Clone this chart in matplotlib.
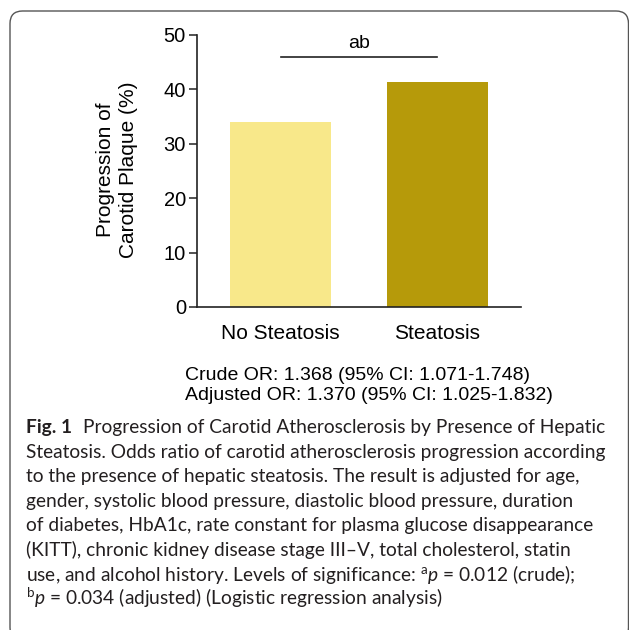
import matplotlib
matplotlib.use("Agg")
import matplotlib.pyplot as plt
from matplotlib.patches import FancyBboxPatch

# bar chart data
groups = ["No Steatosis", "Steatosis"]
progression = [34.0, 41.4]
bar_colors = ["#F8E88A", "#B69A0A"]
y_ticks = [0, 10, 20, 30, 40, 50]
sig_label = "ab"
sig_height = 46
odds_lines = ["Crude OR: 1.368 (95% CI: 1.071-1.748)",
              "Adjusted OR: 1.370 (95% CI: 1.025-1.832)"]

# figure caption, one entry per printed line
caption_title = "Fig. 1"
caption_lines = [
    "Progression of Carotid Atherosclerosis by Presence of Hepatic",
    "Steatosis. Odds ratio of carotid atherosclerosis progression according",
    "to the presence of hepatic steatosis. The result is adjusted for age,",
    "gender, systolic blood pressure, diastolic blood pressure, duration",
    "of diabetes, HbA1c, rate constant for plasma glucose disappearance",
    "(KITT), chronic kidney disease stage III\u2013V, total cholesterol, statin",
    r"use, and alcohol history. Levels of significance: $^{\mathrm{a}}p$ = 0.012 (crude);",
    r"$^{\mathrm{b}}p$ = 0.034 (adjusted) (Logistic regression analysis)",
]

plt.rcParams["font.family"] = ["Liberation Sans", "DejaVu Sans"]
plt.rcParams["mathtext.fontset"] = "custom"
plt.rcParams["mathtext.rm"] = "Lato"
plt.rcParams["mathtext.it"] = "Lato:italic"

W, H = 629, 630
fig = plt.figure(figsize=(W / 100, H / 100), dpi=100)


def fx(px):
    return px / W


def fy(py):
    return 1 - py / H


# rounded frame around the whole figure
frame = FancyBboxPatch((fx(10), fy(640)), fx(618.5), fy(11) - fy(640),
                       boxstyle="round,pad=0,rounding_size=0.02",
                       transform=fig.transFigure, facecolor="none",
                       edgecolor="#555555", linewidth=1.0)
fig.patches.append(frame)

ax = fig.add_axes([fx(197), fy(307), fx(324), (307 - 35) / H])
x = range(len(groups))
ax.bar(x, progression, width=0.643, color=bar_colors, edgecolor="none")
ax.set_xlim(-0.532, 1.532)
ax.set_ylim(0, 50)
ax.set_yticks(y_ticks)
ax.set_xticks(list(x))
ax.set_xticklabels(groups, fontsize=15)
ax.tick_params(axis="y", labelsize=14.5, length=6, width=1.1, pad=2,
               color="#222222")
ax.tick_params(axis="x", length=0, pad=12)
for side in ["top", "right"]:
    ax.spines[side].set_visible(False)
for side in ["left", "bottom"]:
    ax.spines[side].set_linewidth(1.2)
    ax.spines[side].set_color("#222222")

# significance bracket
ax.plot([0, 1], [sig_height, sig_height], color="#222222", lw=1.2,
        clip_on=False)
ax.text(0.5, 47.6, sig_label, ha="center", va="baseline", fontsize=14)

ax.text(-0.247, 0.504, "Progression of\nCarotid Plaque (%)",
        transform=ax.transAxes, rotation=90, ha="center", va="center",
        fontsize=15, linespacing=1.25)

for i, line in enumerate(odds_lines):
    fig.text(fx(185), fy(380 + 20 * i), line, fontsize=14, va="baseline")

# caption: size the font so the widest line spans the text block
renderer = fig.canvas.get_renderer()
cap_font = "Lato"
cap_color = "#231F20"
probe = fig.text(0, 0, caption_lines[1], fontsize=10, family=cap_font)
probe_w = probe.get_window_extent(renderer).width
probe.remove()
cap_size = 10 * (607 - 26) / probe_w

base = 433
step = 24.6
title = fig.text(fx(26), fy(base), caption_title, fontsize=cap_size,
                 family=cap_font, weight="bold", va="baseline",
                 color=cap_color)
title_end = title.get_window_extent(renderer).x1
fig.text((title_end + 11) / W, fy(base), caption_lines[0], fontsize=cap_size,
         family=cap_font, va="baseline", color=cap_color)
for i, line in enumerate(caption_lines[1:], start=1):
    fig.text(fx(26), fy(base + step * i), line, fontsize=cap_size,
             family=cap_font, va="baseline", color=cap_color)

fig.savefig("out.png", dpi=100)
